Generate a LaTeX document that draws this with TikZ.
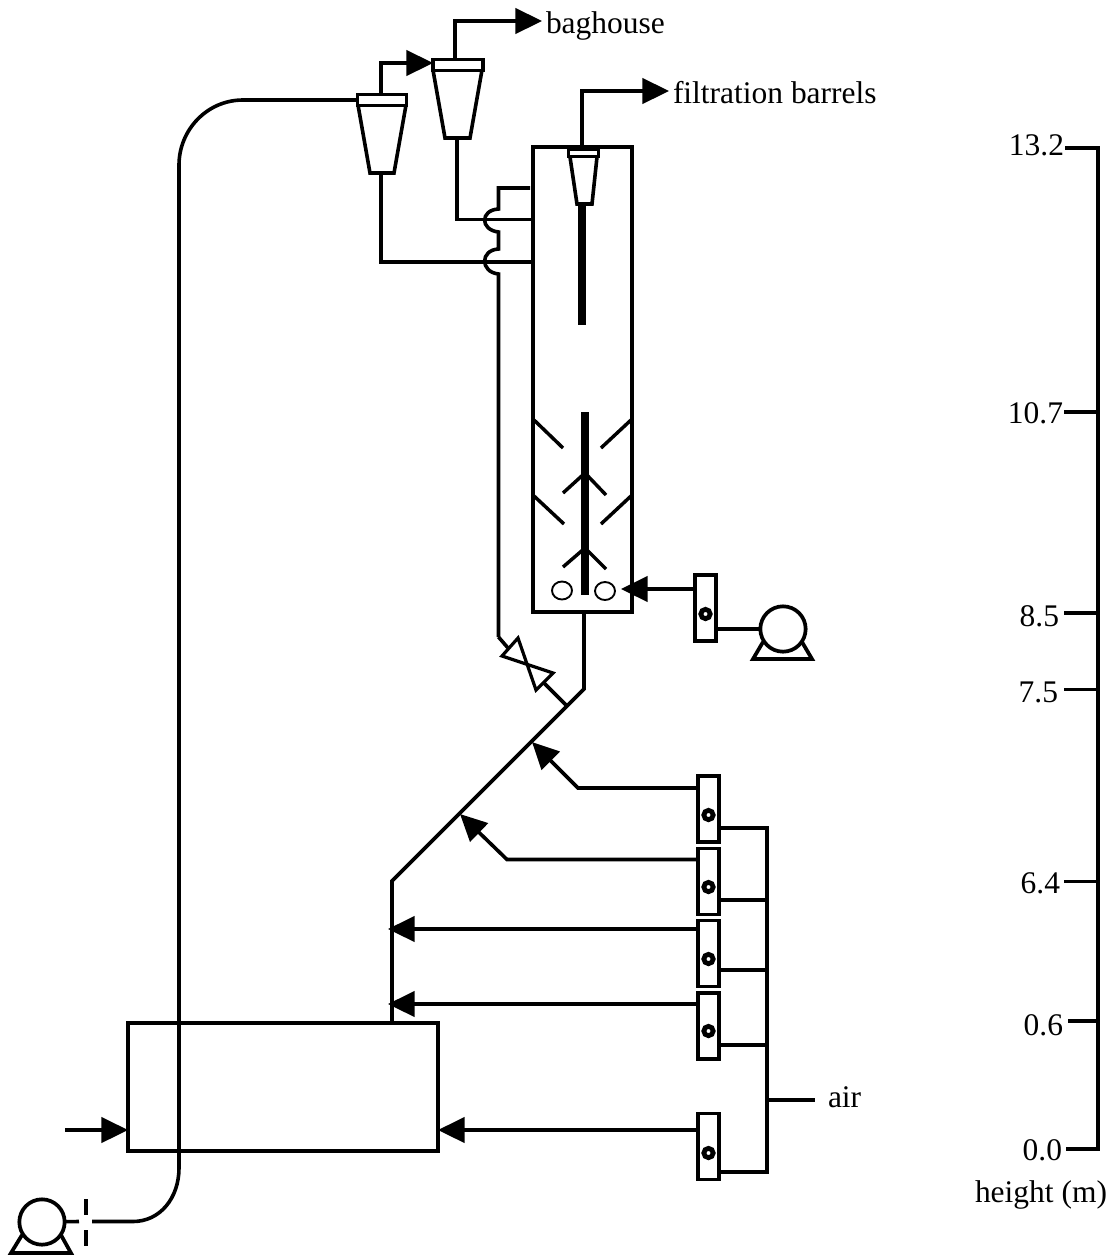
\documentclass[tikz,border=0pt]{standalone}
\usepackage{fontspec}
\setmainfont{Liberation Serif}
\usetikzlibrary{arrows.meta,shapes.geometric}
\tikzset{
  pipe/.style={line width=2.7pt,line join=miter},
  flow/.style={pipe,-{Triangle[length=20pt,width=19pt]}},
  boxed/.style={draw,line width=2.7pt,inner sep=0pt,outer sep=0pt},
  feeder/.style={boxed,minimum width=15.5pt,minimum height=49.5pt},
  ring/.style={circle,draw,line width=3.6pt,inner sep=0pt,outer sep=0pt,minimum size=7pt},
  capbox/.style={boxed,fill=white},
  rod/.style={line width=6pt},
  baffle/.style={line width=2.6pt},
  lbl/.style={inner sep=0pt,outer sep=0pt,font=\fontsize{23.6pt}{26pt}\selectfont},
  blower/.style={circle,draw,line width=2.8pt,minimum size=34pt,inner sep=0pt,outer sep=0pt,fill=white},
  bead/.style={ellipse,draw,line width=1.4pt,minimum width=15pt,minimum height=13.5pt,inner sep=0pt,outer sep=0pt}
}
\begin{document}
\begin{tikzpicture}[x=0.75pt,y=-0.75pt]
\useasboundingbox (0,0) rectangle (1116,1257);
% main vessels
\node[boxed,minimum width=74.25pt,minimum height=348.75pt] (vessel) at (582.5,379.5) {};
\node[boxed,minimum width=232.5pt,minimum height=96pt] (furnace) at (283,1087) {};
% feeders
\node[feeder] (f1) at (708.5,809) {};
\node[feeder] (f2) at (708.5,881.5) {};
\node[feeder] (f3) at (708.5,953.5) {};
\node[feeder] (f4) at (708.5,1026) {};
\node[feeder] (f5) at (708.5,1146.5) {};
\node[feeder] (f6) at (705.5,608) {};
\node[ring] (r1) at (708.5,815) {};
\node[ring] (r2) at (708.5,887) {};
\node[ring] (r3) at (708.5,959) {};
\node[ring] (r4) at (708.5,1031) {};
\node[ring] (r5) at (708.5,1153) {};
\node[ring] (r6) at (705.5,614) {};
% bus
\coordinate (busT) at (767,828);
\coordinate (busB) at (767,1172);
\coordinate (airEnd) at (815,1100);
\draw[pipe] (f1.east |- busT) -- (busT) -- (busB) -- (f5.east |- busB);
\draw[pipe] (f2.east |- 0,900) -- (767,900);
\draw[pipe] (f3.east |- 0,970) -- (767,970);
\draw[pipe] (f4.east |- 0,1045) -- (767,1045);
\draw[pipe] (767,1100) -- (airEnd);
\node[lbl,anchor=base west] (air) at (828,1107) {air};
% riser
\coordinate (rA) at (392,1023);
\coordinate (rB) at (392,881);
\coordinate (rC) at (584,689);
\draw[pipe] (rA) -- (rB) -- (rC) -- (vessel.south -| rC);
% air feeds
\coordinate (t1) at (532,742);
\coordinate (t2) at (460,814);
\coordinate (t3) at (388,929);
\coordinate (t4) at (388,1004);
\draw[flow] (f1.west |- 0,788) -- (578,788) -- (t1);
\draw[flow] (f2.west |- 0,859.5) -- (507,859.5) -- (t2);
\draw[flow] (f3.west |- t3) -- (t3);
\draw[flow] (f4.west |- t4) -- (t4);
\draw[flow] (f5.west |- 0,1130) -- (furnace.east |- 0,1130);
\coordinate (inlet) at (65,1130);
\draw[flow] (inlet) -- (furnace.west |- inlet);
\draw[flow] (f6.west |- 0,589) -- (621,589);
% upper blower
\node[blower] (pump1) at (783,629) {};
\draw[pipe] (f6.east |- pump1) -- (pump1);
\draw[line width=2.8pt,line join=miter] (763,642) -- (753,659) -- (812,659) -- (802,642);
% lower blower
\node[blower] (pump2) at (42,1222) {};
\draw[line width=2.8pt,line join=miter] (22,1235) -- (11,1253) -- (71,1253) -- (61,1235);
\coordinate (gapA) at (79,1221.5);
\coordinate (gapB) at (92,1221.5);
\draw[pipe] (pump2) -- (gapA);
\draw[pipe] (86,1199) -- (86,1215);
\draw[pipe] (86,1230) -- (86,1246);
\coordinate (cyc1in) at (357,100);
\draw[pipe] (gapB) -- (133,1221.5) .. controls (160,1221.5) and (179,1198) .. (179,1168)
  -- (179,165) .. controls (179,130) and (207,100) .. (243,100) -- (cyc1in);
% cyclone 1
\draw[pipe,fill=white] (358,105) -- (370,173) -- (394,173) -- (406,105);
\node[capbox,minimum width=37pt,minimum height=8pt] (cap1) at (382,100) {};
% cyclone 2
\draw[pipe,fill=white] (433,70) -- (445,138) -- (470,138) -- (482,70);
\node[capbox,minimum width=37.5pt,minimum height=8pt] (cap2) at (458,65) {};
% cyclone 3
\draw[pipe,fill=white] (570,157) -- (577,204) -- (592,204) -- (597,157);
\node[capbox,minimum width=22.5pt,minimum height=5pt] (cap3) at (583.5,153) {};
% cyclone connections
\coordinate (o1) at (381,63);
\draw[flow] (cap1.north -| o1) -- (o1) -- (cap2.west |- o1);
\coordinate (o2) at (455,21);
\draw[flow] (cap2.north -| o2) -- (o2) -- (542,21);
\node[lbl,anchor=base west] (bag) at (546,33) {baghouse};
\coordinate (o3) at (582,91);
\draw[flow] (cap3.north -| o3) -- (o3) -- (669,91);
\node[lbl,anchor=base west] (filt) at (673,103) {filtration barrels};
\draw[pipe] (457,138) -- (457,219.5) -- (vessel.west |- 0,219.5);
\draw[pipe] (381,173) -- (381,262) -- (vessel.west |- 0,262);
% return line with hops
\coordinate (vU) at (498.5,637);
\draw[pipe] (vU) -- (498.5,274) .. controls (480,272) and (480,250) .. (498.5,249)
  -- (498.5,232) .. controls (480,230) and (480,210) .. (498.5,209)
  -- (498.5,188) -- (530,188);
% valve
\coordinate (vL) at (543,682);
\coordinate (vR) at (567,706);
\draw[pipe] (vU) -- (508,648);
\draw[line width=2.4pt,line join=miter] (518,638) -- (536,690) -- (553,673) -- (502,656) -- cycle;
\draw[pipe] (vL) -- (vR);
% rods and baffles
\draw[rod] (582,204) -- (582,325);
\draw[rod] (585,412) -- (585,595);
\draw[baffle] (534,420) -- (563,448);
\draw[baffle] (631,420) -- (601,448);
\draw[baffle] (534,496) -- (564,524);
\draw[baffle] (631,496) -- (601,524);
\draw[baffle] (563,493) -- (585,473) -- (606,495);
\draw[baffle] (563,567) -- (585,548) -- (606,569);
\node[bead] (b1) at (562,590.5) {};
\node[bead] (b2) at (605,591) {};
% height scale
\coordinate (sT) at (1098,148);
\coordinate (sB) at (1098,1149);
\draw[pipe] (1065,148) -- (sT) -- (sB) -- (1066,1149);
\draw[pipe] (1064,412) -- (1098,412);
\draw[pipe] (1064,613) -- (1098,613);
\draw[pipe] (1064,689.5) -- (1098,689.5);
\draw[pipe] (1064,881.5) -- (1098,881.5);
\draw[pipe] (1068,1021) -- (1098,1021);
\node[lbl,anchor=base east] (h1) at (1064,155) {13.2};
\node[lbl,anchor=base east] (h2) at (1063,423) {10.7};
\node[lbl,anchor=base east] (h3) at (1059,626) {8.5};
\node[lbl,anchor=base east] (h4) at (1058,702) {7.5};
\node[lbl,anchor=base east] (h5) at (1060,893) {6.4};
\node[lbl,anchor=base east] (h6) at (1063,1035) {0.6};
\node[lbl,anchor=base east] (h7) at (1062,1160) {0.0};
\node[lbl,anchor=base west] (h8) at (975,1202) {height (m)};
\end{tikzpicture}
\end{document}
